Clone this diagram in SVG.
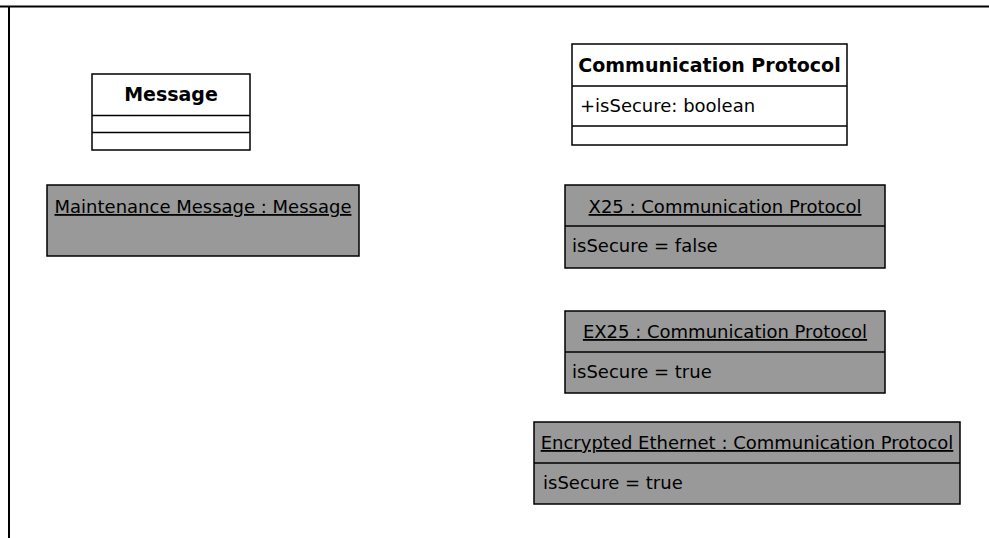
<svg xmlns="http://www.w3.org/2000/svg" width="989" height="538" viewBox="0 0 989 538">
<style>
text{font-family:"DejaVu Sans","Liberation Sans",sans-serif;font-size:18px;fill:#000}
.t{font-weight:bold;text-anchor:middle;font-size:19px}
.u{text-decoration:underline}
.c{text-anchor:middle}
.cls{fill:#fff;stroke:#000;stroke-width:1.5}
.obj{fill:#999;stroke:#000;stroke-width:1.5}
.ln{stroke:#000;stroke-width:1.5;fill:none}
</style>
<rect width="989" height="538" fill="#fff"/>
<path d="M0 6.5H989M9 6V538" stroke="#000" stroke-width="2" fill="none"/>
<g id="message">
<rect class="cls" x="92" y="74" width="158" height="76"/>
<path class="ln" d="M92 115.5H250M92 132.5H250"/>
<text class="t" x="171" y="101">Message</text>
</g>
<g id="maintenance">
<rect class="obj" x="47" y="185" width="312" height="71"/>
<text class="c u" x="203" y="213">Maintenance Message : Message</text>
</g>
<g id="protocol">
<rect class="cls" x="572" y="44" width="275" height="101"/>
<path class="ln" d="M572 86H847M572 126H847"/>
<text class="t" x="709.5" y="72">Communication Protocol</text>
<text x="580" y="112">+isSecure: boolean</text>
</g>
<g id="x25">
<rect class="obj" x="565" y="185" width="320" height="83"/>
<path class="ln" d="M565 226H885"/>
<text class="c u" x="725" y="213">X25 : Communication Protocol</text>
<text x="572" y="252">isSecure = false</text>
</g>
<g id="ex25">
<rect class="obj" x="565" y="311" width="320" height="82"/>
<path class="ln" d="M565 352H885"/>
<text class="c u" x="725" y="338">EX25 : Communication Protocol</text>
<text x="572" y="378">isSecure = true</text>
</g>
<g id="ethernet">
<rect class="obj" x="534" y="422" width="426" height="82"/>
<path class="ln" d="M534 463H960"/>
<text class="c u" x="747" y="449">Encrypted Ethernet : Communication Protocol</text>
<text x="543" y="489">isSecure = true</text>
</g>
<g id="connectors"/>
</svg>
